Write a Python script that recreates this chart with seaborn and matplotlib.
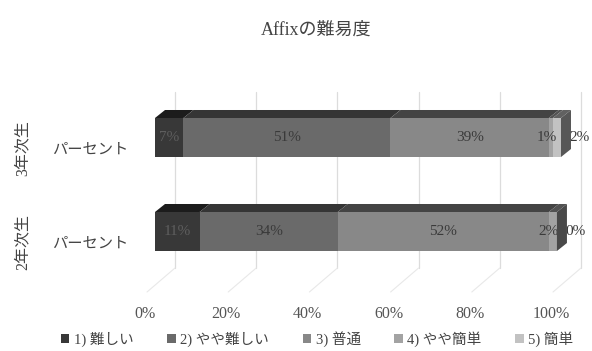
import numpy as np
import pandas as pd
import matplotlib
matplotlib.use("Agg")
import matplotlib.pyplot as plt
from matplotlib.patches import Polygon, Patch
from matplotlib.transforms import ScaledTranslation, IdentityTransform, blended_transform_factory
from matplotlib.lines import Line2D
import seaborn as sns

# ---- data ----
groups = ["3年次生", "2年次生"]
levels = ["1) 難しい", "2) やや難しい", "3) 普通", "4) やや簡単", "5) 簡単"]
pct_3nen = [7, 51, 39, 1, 2]
pct_2nen = [11, 34, 52, 2, 0]
xtick_vals = [0, 20, 40, 60, 80, 100]
xtick_labels = ["0%", "20%", "40%", "60%", "80%", "100%"]
row_label = "パーセント"
title = "Affixの難易度"

seg_colors = ["#383838", "#6a6a6a", "#888888", "#a3a3a3", "#c2c2c2"]

sns.set_theme(style="white")
plt.rcParams["font.family"] = ["Liberation Serif", "Noto Sans CJK JP", "DejaVu Sans"]

W, H, DPI = 592, 351, 100
fig = plt.figure(figsize=(W / DPI, H / DPI), dpi=DPI)
fig.patch.set_facecolor("white")

# axes span: 0% .. 100% of the bar front faces
ax_left, ax_right = 155, 561
ax_top, ax_bot = 95, 280
ax = fig.add_axes([ax_left / W, 1 - ax_bot / H, (ax_right - ax_left) / W, (ax_bot - ax_top) / H])
ax.set_facecolor("none")

values = np.array([pct_3nen, pct_2nen], dtype=float)
cum = np.cumsum(values, axis=1)

# stacked bars: draw cumulative totals, longest first
bar_w = 0.415
for k in range(len(levels) - 1, -1, -1):
    df = pd.DataFrame({"group": groups, "cum": cum[:, k]})
    sns.barplot(data=df, x="cum", y="group", order=groups, color=seg_colors[k],
                saturation=1, width=bar_w, orient="h", ax=ax, zorder=3,
                edgecolor="none", linewidth=0)

ax.set_xlim(0, 100)
ax.set_ylim(1 + 48.5 / 94, -42.5 / 94)
ax.set_xlabel("")
ax.set_ylabel("")
for s in ax.spines.values():
    s.set_visible(False)

fig.canvas.draw()
to_disp = ax.transData

# 3D depth in pixels
dx, dy = 10, 8

def shade(c, f):
    rgb = np.array(matplotlib.colors.to_rgb(c))
    return tuple(rgb * f)

# back wall gridlines and floor lines
for v in xtick_vals:
    x0, _ = to_disp.transform((v, 0))
    xb = x0 + 20
    fig.add_artist(Line2D([xb, xb], [H - 92, H - 268], transform=IdentityTransform(),
                          color="#dcdcdc", lw=0.9, zorder=0))
    fig.add_artist(Line2D([x0 - 8, xb], [H - 292, H - 268], transform=IdentityTransform(),
                          color="#e8e8e8", lw=0.8, zorder=0))

# top and side faces for each stacked bar
for gi in range(len(groups)):
    y_top = gi - bar_w / 2
    y_bot = gi + bar_w / 2
    starts = np.concatenate([[0], cum[gi, :-1]])
    for k in range(len(levels)):
        if values[gi, k] <= 0:
            continue
        (xa, ya) = to_disp.transform((starts[k], y_top))
        (xb, _) = to_disp.transform((cum[gi, k], y_top))
        poly = Polygon([(xa, ya), (xb, ya), (xb + dx, ya + dy), (xa + dx, ya + dy)],
                       closed=True, transform=IdentityTransform(),
                       facecolor=shade(seg_colors[k], 0.5), edgecolor="none", zorder=4)
        fig.add_artist(poly)
    # right end side face
    last_k = max(i for i in range(len(levels)) if values[gi, i] > 0)
    (xe, yt) = to_disp.transform((cum[gi, -1], y_top))
    (_, yb) = to_disp.transform((cum[gi, -1], y_bot))
    side = Polygon([(xe, yt), (xe + dx, yt + dy), (xe + dx, yb + dy), (xe, yb)],
                   closed=True, transform=IdentityTransform(),
                   facecolor=shade(seg_colors[last_k], 0.45), edgecolor="none", zorder=4)
    fig.add_artist(side)

# value labels
for gi in range(len(groups)):
    starts = np.concatenate([[0], cum[gi, :-1]])
    for k in range(len(levels)):
        v = values[gi, k]
        txt = f"{int(v)}%"
        col = "#5e5e5e" if k == 0 else "#3a3a3a"
        if k == len(levels) - 1:
            off = ScaledTranslation(8 / DPI, 0, fig.dpi_scale_trans)
            ax.text(cum[gi, -1], gi, txt, ha="left", va="center", fontsize=11,
                    color=col, transform=ax.transData + off, zorder=6)
        else:
            off = ScaledTranslation(-4 / DPI if v < 5 else 0, 0, fig.dpi_scale_trans)
            ax.text(starts[k] + v / 2, gi, txt, ha="center", va="center", fontsize=11,
                    color=col, transform=ax.transData + off, zorder=6)

# x ticks, shifted for the floor perspective
ax.set_xticks(xtick_vals)
ax.set_xticklabels(xtick_labels)
ax.tick_params(axis="x", length=0, pad=19, labelsize=11.5, labelcolor="#555555")
ax.tick_params(axis="y", length=0, pad=19, labelsize=11, labelcolor="#444444")
ax.set_yticks(range(len(groups)))
ax.set_yticklabels([row_label] * len(groups))
for lab in ax.get_xticklabels():
    lab.set_transform(lab.get_transform() + ScaledTranslation(-10 / DPI, 0, fig.dpi_scale_trans))
for lab in ax.get_yticklabels():
    lab.set_transform(lab.get_transform() + ScaledTranslation(0, -11 / DPI, fig.dpi_scale_trans))

# group labels, rotated
for gi, g in enumerate(groups):
    off = ScaledTranslation(0, -11 / DPI, fig.dpi_scale_trans)
    ax.text((23 - ax_left) / (ax_right - ax_left), gi, g, rotation=90, ha="center", va="center",
            fontsize=11.5, color="#444444",
            transform=blended_transform_factory(ax.transAxes, ax.transData) + off)

fig.text(316 / W, 1 - 30 / H, title, ha="center", va="center", fontsize=13, color="#444444")

handles = [Patch(facecolor=c, edgecolor="none") for c in seg_colors]
fig.legend(handles, levels, loc="center", bbox_to_anchor=(317 / W, 1 - 339 / H), ncol=5,
           frameon=False, fontsize=10.5, handlelength=0.6, handleheight=0.6,
           handletextpad=0.3, columnspacing=2.3, labelcolor="#444444")

fig.savefig("out.png", dpi=DPI, facecolor="white")
